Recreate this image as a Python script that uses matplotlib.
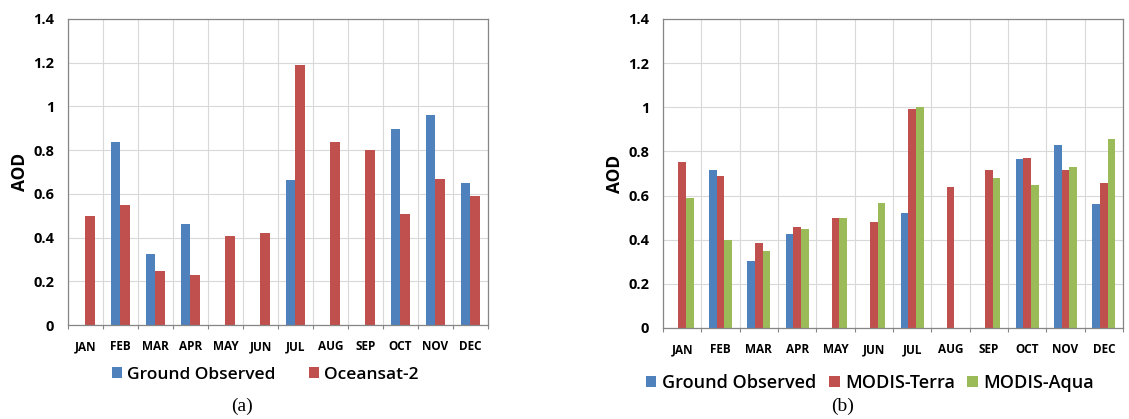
import numpy as np
import matplotlib.pyplot as plt
from matplotlib.ticker import FixedLocator, NullFormatter

months = ['JAN', 'FEB', 'MAR', 'APR', 'MAY', 'JUN', 'JUL', 'AUG', 'SEP', 'OCT', 'NOV', 'DEC']
nan = np.nan

# panel (a)
ground_a = [nan, 0.835, 0.326, 0.463, nan, nan, 0.663, nan, nan, 0.895, 0.961, 0.649]
oceansat = [0.498, 0.548, 0.248, 0.229, 0.408, 0.419, 1.19, 0.839, 0.80, 0.509, 0.667, 0.588]

# panel (b)
ground_b = [nan, 0.718, 0.302, 0.427, nan, nan, 0.52, nan, nan, 0.765, 0.83, 0.563]
terra = [0.75, 0.688, 0.386, 0.459, 0.498, 0.478, 0.99, 0.638, 0.718, 0.768, 0.718, 0.658]
aqua = [0.587, 0.398, 0.348, 0.448, 0.498, 0.567, 0.999, nan, 0.679, 0.65, 0.729, 0.857]

BLUE = '#4F81BD'
RED = '#C0504D'
GREEN = '#9BBB59'
FONT = 'Open Sans'

fig = plt.figure(figsize=(11.29, 4.19), dpi=100)
ax1 = fig.add_axes([0.0602, 0.2243, 0.372, 0.7304])
ax2 = fig.add_axes([0.5872, 0.2172, 0.4075, 0.7375])

x = np.arange(len(months))


def style_axes(ax):
    ax.set_xlim(-0.5, 11.5)
    ax.set_ylim(0, 1.4)
    ax.set_yticks(np.arange(0, 1.41, 0.2))
    ax.set_yticklabels(['0', '0.2', '0.4', '0.6', '0.8', '1', '1.2', '1.4'],
                       fontsize=10.5, fontweight='bold', family=FONT)
    ax.set_xticks(x)
    ax.set_xticklabels(months, fontsize=8.5, fontweight='bold', family=FONT)
    ax.xaxis.set_minor_locator(FixedLocator(np.arange(-0.5, 12, 1)))
    ax.xaxis.set_minor_formatter(NullFormatter())
    ax.tick_params(axis='x', which='major', length=0, pad=11)
    ax.tick_params(axis='x', which='minor', length=3, color='#868686', width=0.8)
    ax.tick_params(axis='y', length=0, pad=10)
    ax.grid(True, axis='y', color='#D9D9D9', linewidth=0.8)
    ax.grid(True, axis='x', which='minor', color='#D9D9D9', linewidth=0.8)
    ax.set_axisbelow(True)
    for s in ax.spines.values():
        s.set_color('#868686')
        s.set_linewidth(0.9)
    ax.set_ylabel('AOD', fontsize=12.5, fontweight='bold', family=FONT, labelpad=3)


w = 0.28
ax1.bar(x - w / 2, ground_a, w, color=BLUE, label='Ground Observed')
ax1.bar(x + w / 2, oceansat, w, color=RED, label='Oceansat-2')
style_axes(ax1)
ax1.legend(loc='upper center', bbox_to_anchor=(0.47, -0.085), ncol=2, frameon=False,
           prop={'family': FONT, 'size': 12.5, 'weight': 'semibold'},
           handlelength=0.6, handleheight=0.6, handletextpad=0.3, columnspacing=1.9)

w = 0.2
ax2.bar(x - w, ground_b, w, color=BLUE, label='Ground Observed')
ax2.bar(x, terra, w, color=RED, label='MODIS-Terra')
ax2.bar(x + w, aqua, w, color=GREEN, label='MODIS-Aqua')
style_axes(ax2)
ax2.legend(loc='upper center', bbox_to_anchor=(0.45, -0.095), ncol=3, frameon=False,
           prop={'family': FONT, 'size': 13, 'weight': 'semibold'},
           handlelength=0.6, handleheight=0.6, handletextpad=0.3, columnspacing=0.7)

fig.text(242 / 1129, 1 - 406 / 419, '(a)', ha='center', va='center',
         fontsize=14, family='Liberation Serif')
fig.text(843 / 1129, 1 - 406 / 419, '(b)', ha='center', va='center',
         fontsize=14, family='Liberation Serif')

fig.savefig('out.png', dpi=100)
